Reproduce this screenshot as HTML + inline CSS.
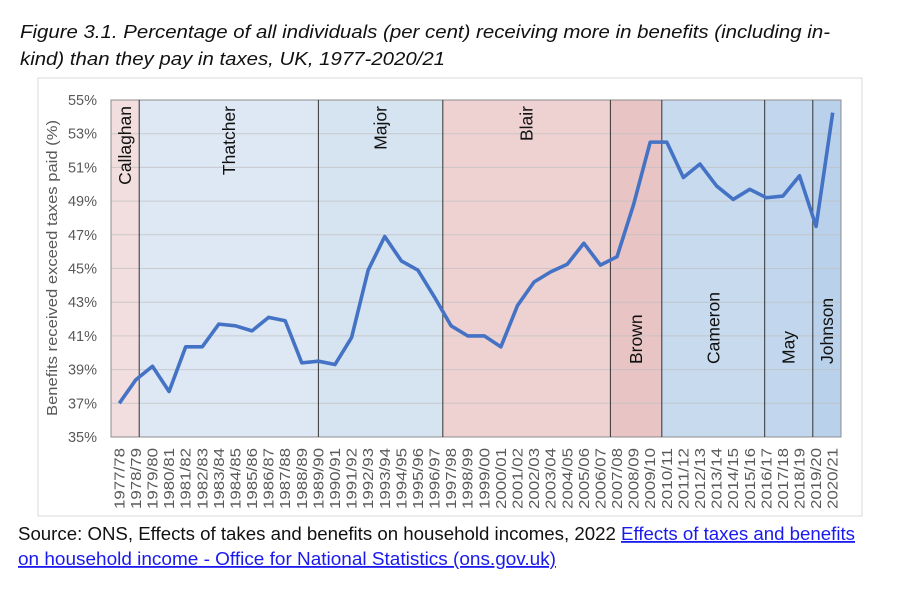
<!DOCTYPE html>
<html><head><meta charset="utf-8"><style>
body{margin:0;background:#fff;width:900px;height:590px;overflow:hidden;font-family:"Liberation Sans",sans-serif}
svg{display:block}
</style></head><body>
<svg id="chart" width="900" height="590" xmlns="http://www.w3.org/2000/svg">
<text x="20" y="38" font-size="18.5" font-style="italic" fill="#111" textLength="810" lengthAdjust="spacingAndGlyphs">Figure 3.1. Percentage of all individuals (per cent) receiving more in benefits (including in-</text>
<text x="20" y="65" font-size="18.5" font-style="italic" fill="#111" textLength="425" lengthAdjust="spacingAndGlyphs">kind) than they pay in taxes, UK, 1977-2020/21</text>
<rect x="38" y="78" width="824" height="438" fill="none" stroke="#d9d9d9"/>
<g id="bands"></g><g id="grid"></g><g id="dividers"></g><g id="names"></g><g id="yticks"></g><g id="xticks"></g><g id="series"></g>
<text transform="translate(57,268) rotate(-90)" text-anchor="middle" font-size="15" fill="#595959" textLength="296" lengthAdjust="spacingAndGlyphs">Benefits received exceed taxes paid (%)</text>
<text x="18" y="540" font-size="18" fill="#111" textLength="837" lengthAdjust="spacingAndGlyphs">Source: ONS, Effects of takes and benefits on household incomes, 2022 <tspan fill="#1a1aee" text-decoration="underline">Effects of taxes and benefits</tspan></text>
<text x="18" y="565" font-size="18" fill="#1a1aee" text-decoration="underline" textLength="538" lengthAdjust="spacingAndGlyphs">on household income - Office for National Statistics (ons.gov.uk)</text>
</svg>
<script>
const categories=["1977/78","1978/79","1979/80","1980/81","1981/82","1982/83","1983/84","1984/85","1985/86","1986/87","1987/88","1988/89","1989/90","1990/91","1991/92","1992/93","1993/94","1994/95","1995/96","1996/97","1997/98","1998/99","1999/00","2000/01","2001/02","2002/03","2003/04","2004/05","2005/06","2006/07","2007/08","2008/09","2009/10","2010/11","2011/12","2012/13","2013/14","2014/15","2015/16","2016/17","2017/18","2018/19","2019/20","2020/21"];
const values=[37.0,38.4,39.2,37.7,40.35,40.35,41.7,41.6,41.3,42.1,41.9,39.4,39.5,39.3,40.9,44.9,46.9,45.45,44.9,43.3,41.6,41.0,41.0,40.35,42.8,44.2,44.8,45.25,46.5,45.2,45.7,48.8,52.5,52.5,50.4,51.2,49.9,49.1,49.7,49.2,49.3,50.5,47.5,54.25];
const yTicks=[35,37,39,41,43,45,47,49,51,53,55];
const pmNames=["Callaghan","Thatcher","Major","Blair","Brown","Cameron","May","Johnson"];
const pmStarts=[-0.5,1.2,12,19.5,29.6,32.7,38.9,41.8];
const pmEnds=[1.2,12,19.5,29.6,32.7,38.9,41.8,43.5];
const pmColors=["#f2dede","#dde8f4","#d6e3f1","#eed2d2","#e8c4c4","#c7daee","#c2d7ed","#b9d1ea"];
const pmLabelTop=[true,true,true,true,false,false,false,false];
const L=111,R=841,T=100,B=437,NS="http://www.w3.org/2000/svg";
const step=(R-L)/categories.length;
const xs=i=>L+(i+0.5)*step;
const ys=v=>B-(v-35)/(55-35)*(B-T);
function mk(tag,at,parent){const e=document.createElementNS(NS,tag);for(const k in at)e.setAttribute(k,at[k]);document.getElementById(parent).appendChild(e);return e;}
pmNames.forEach((n,i)=>{
 const x0=Math.max(L,xs(pmStarts[i])),x1=Math.min(R,xs(pmEnds[i]));
 const r=mk('rect',{x:x0,y:T,width:x1-x0,height:B-T,fill:pmColors[i]},'bands');
 
 
 if(i>0){const d=mk('line',{x1:x0,x2:x0,y1:T,y2:B,stroke:'#333','stroke-width':1},'dividers');
 
 }
 const cx=(x0+x1)/2+6;
 const t=mk('text',{'font-size':17.5,fill:'#111','text-anchor':pmLabelTop[i]?'end':'start',transform:`translate(${cx},${pmLabelTop[i]?106:364}) rotate(-90)`},'names');
 t.textContent=n;
 
 
});
yTicks.forEach(v=>{
 const g=mk('line',{x1:L,x2:R,y1:ys(v),y2:ys(v),stroke:'#bfbfbf','stroke-width':1,'stroke-opacity':0.7},'grid');
 
 
 const t=mk('text',{x:97,y:ys(v)+5,'text-anchor':'end','font-size':14.5,fill:'#595959'},'yticks');
 t.textContent=v+'%';
 
 
});
const ax=mk('rect',{x:L,y:T,width:R-L,height:B-T,fill:'none',stroke:'#8c8c8c'},'grid');


categories.forEach((c,i)=>{
 const t=mk('text',{'font-size':14.5,fill:'#595959','text-anchor':'end',textLength:61,lengthAdjust:'spacingAndGlyphs',transform:`translate(${xs(i)+5},448) rotate(-90)`},'xticks');
 t.textContent=c;
 
 
});
const p=mk('polyline',{points:values.map((v,i)=>xs(i)+','+ys(v)).join(' '),fill:'none',stroke:'#4472c4','stroke-width':3.6,'stroke-linejoin':'round'},'series');


</script>
</body></html>
